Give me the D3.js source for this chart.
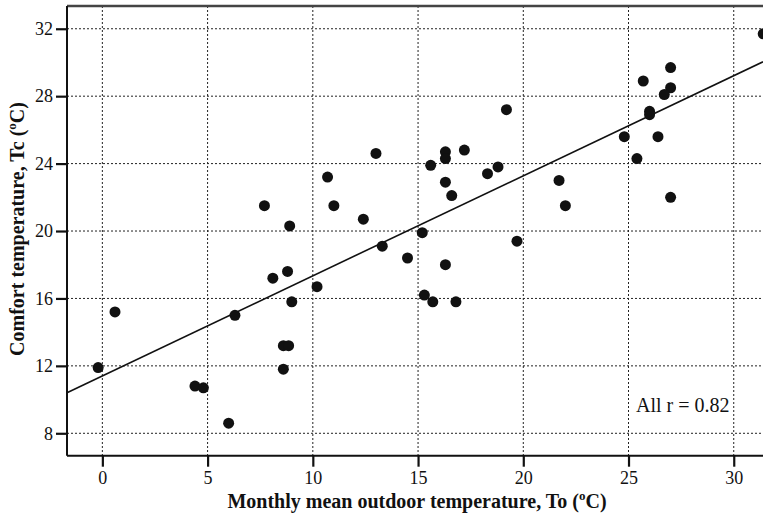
<!DOCTYPE html>
<html><head><meta charset="utf-8">
<script src="https://cdn.jsdelivr.net/npm/d3@7"></script>
<style>body{margin:0;background:#fff}svg{display:block}</style>
</head><body>
<svg id="c" width="763" height="516"></svg>
<script>
const toValues = [-0.2,0.6,4.4,4.8,6.0,6.3,7.7,8.9,8.1,8.8,9.0,8.6,8.85,8.6,19.2,13.0,16.3,16.3,17.2,15.6,18.3,18.8,10.7,16.3,16.6,11.0,12.4,15.2,19.7,13.3,14.5,16.3,10.2,15.3,15.7,16.8,31.4,27.0,25.7,27.0,26.7,26.0,26.0,24.8,26.4,25.4,21.7,22.0,27.0];
const tcValues = [11.9,15.2,10.8,10.7,8.6,15.0,21.5,20.3,17.2,17.6,15.8,13.2,13.2,11.8,27.2,24.6,24.7,24.3,24.8,23.9,23.4,23.8,23.2,22.9,22.1,21.5,20.7,19.9,19.4,19.1,18.4,18.0,16.7,16.2,15.8,15.8,31.7,29.7,28.9,28.5,28.1,27.1,26.9,25.6,25.6,24.3,23.0,21.5,22.0];
const fitX = [-1.68, 31.39];
const fitY = [10.41, 30.04];
const xTicks = [0,5,10,15,20,25,30];
const yTicks = [8,12,16,20,24,28,32];
const annotation = "All r = 0.82";

const svg = d3.select("#c");
const L=67, R=763, T=6, B=455.7;
const x = d3.scaleLinear().domain([-1.68,31.39]).range([L,R]);
const y = d3.scaleLinear().domain([6.67,33.35]).range([B,T]);
const serif = "'Liberation Serif','Times New Roman',serif";

// grid
svg.append("g").selectAll("line").data(xTicks).join("line")
  .attr("x1",d=>x(d)).attr("x2",d=>x(d)).attr("y1",T).attr("y2",B)
  .attr("stroke","#222").attr("stroke-width",1).attr("stroke-dasharray","2,2");
svg.append("g").selectAll("line").data(yTicks).join("line")
  .attr("x1",L).attr("x2",R).attr("y1",d=>y(d)).attr("y2",d=>y(d))
  .attr("stroke","#222").attr("stroke-width",1).attr("stroke-dasharray","2,2");

// top border
svg.append("line").attr("x1",L).attr("x2",R).attr("y1",T).attr("y2",T)
  .attr("stroke","#444").attr("stroke-width",2.5);

// axes
const xAxis = svg.append("g").attr("transform",`translate(0,${B})`)
  .call(d3.axisBottom(x).tickValues(xTicks).tickSize(11).tickPadding(5).tickSizeOuter(0));
const yAxis = svg.append("g").attr("transform",`translate(${L},0)`)
  .call(d3.axisLeft(y).tickValues(yTicks).tickSize(11).tickPadding(3).tickSizeOuter(0));
[xAxis,yAxis].forEach(a=>{
  a.select(".domain").attr("stroke","#111").attr("stroke-width",2);
  a.selectAll(".tick line").attr("stroke","#111").attr("stroke-width",2.2);
  a.selectAll("text").attr("font-family",serif).attr("font-size",18).attr("fill","#111");
});
yAxis.select(".domain").attr("d",`M0,${T}V${B}`);
xAxis.select(".domain").attr("d",`M${L},0H${R}`);

// regression line
svg.append("line")
  .attr("x1",x(fitX[0])).attr("y1",y(fitY[0]))
  .attr("x2",x(fitX[1])).attr("y2",y(fitY[1]))
  .attr("stroke","#111").attr("stroke-width",1.6);

// points
svg.append("g").selectAll("circle").data(toValues.map((v,i)=>[v,tcValues[i]])).join("circle")
  .attr("cx",d=>x(d[0])).attr("cy",d=>y(d[1])).attr("r",5.5).attr("fill","#111");

// annotation
svg.append("text").attr("x",636).attr("y",412).attr("font-family",serif)
  .attr("font-size",20).attr("fill","#111").text(annotation);

// axis titles
const xt = svg.append("text").attr("x",417).attr("y",508).attr("text-anchor","middle")
  .attr("font-family",serif).attr("font-weight","bold").attr("font-size",20).attr("fill","#111");
xt.append("tspan").text("Monthly mean outdoor temperature, To (");
xt.append("tspan").attr("font-size",13).attr("dy",-8).text("o");
xt.append("tspan").attr("dy",8).text("C)");

const yt = svg.append("text").attr("transform","translate(24,229) rotate(-90)").attr("text-anchor","middle")
  .attr("font-family",serif).attr("font-weight","bold").attr("font-size",20).attr("fill","#111");
yt.append("tspan").text("Comfort temperature, Tc (");
yt.append("tspan").attr("font-size",13).attr("dy",-8).text("o");
yt.append("tspan").attr("dy",8).text("C)");
</script>
</body></html>
